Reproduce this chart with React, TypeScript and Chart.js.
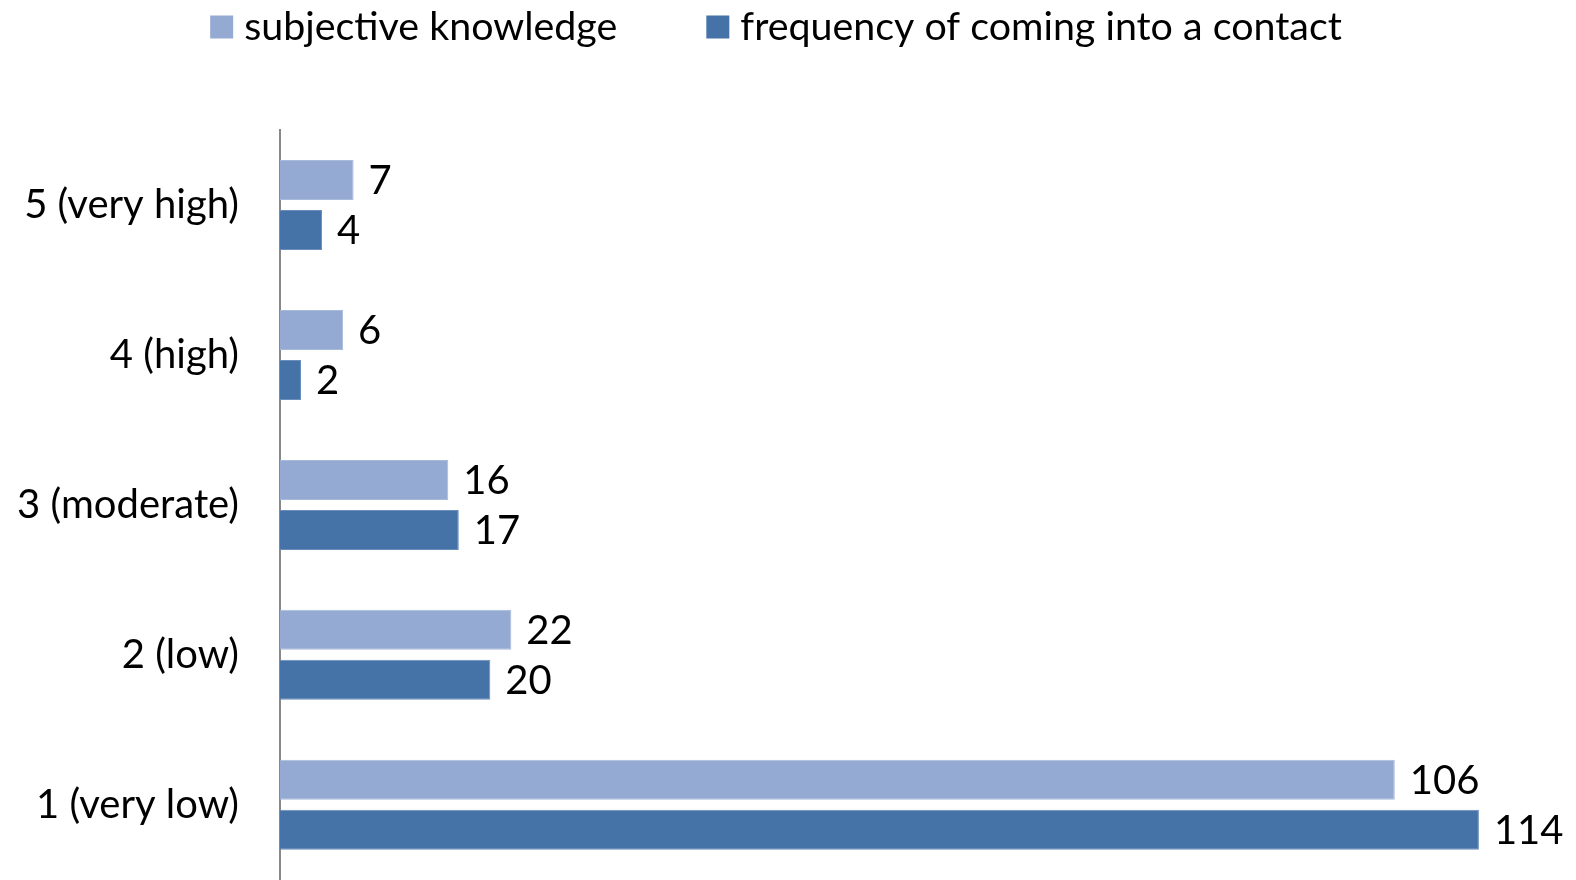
import React, { useEffect, useRef } from "react";
import { Chart, registerables } from "chart.js";

Chart.register(...registerables);

const categories = ["5 (very high)", "4 (high)", "3 (moderate)", "2 (low)", "1 (very low)"];
const subjectiveKnowledge = [7, 6, 16, 22, 106];
const contactFrequency = [4, 2, 17, 20, 114];
const seriesNames = ["subjective knowledge", "frequency of coming into a contact"];
const seriesColors = ["#95AAD2", "#4572A7"];
const seriesBorders = ["#A8BADC", "#6A8DBA"];

const FONT = "Lato";
const FONT_SIZE = 40;
const LEGEND_FONT_SIZE = 39.4;

const valueLabels = {
  id: "valueLabels",
  afterDatasetsDraw(chart: any) {
    const ctx = chart.ctx;
    ctx.save();
    ctx.font = `${FONT_SIZE}px ${FONT}`;
    ctx.fillStyle = "#000";
    ctx.textAlign = "left";
    ctx.textBaseline = "middle";
    chart.data.datasets.forEach((ds: any, i: number) => {
      const meta = chart.getDatasetMeta(i);
      meta.data.forEach((bar: any, j: number) => {
        ctx.fillText(String(ds.data[j]), bar.x + 15, bar.y + 1);
      });
    });
    ctx.restore();
  },
};

const customLegend = {
  id: "customLegend",
  afterDraw(chart: any) {
    const ctx = chart.ctx;
    ctx.save();
    ctx.font = `${LEGEND_FONT_SIZE}px ${FONT}`;
    ctx.textBaseline = "middle";
    ctx.textAlign = "left";
    const box = 23;
    const gapBoxText = 11;
    const gapItems = 89;
    const widths = chart.data.datasets.map((ds: any) => box + gapBoxText + ctx.measureText(ds.label).width);
    const total = widths.reduce((a: number, b: number) => a + b, 0) + gapItems * (widths.length - 1);
    let x = 776 - total / 2;
    const cy = 27;
    chart.data.datasets.forEach((ds: any, i: number) => {
      ctx.fillStyle = ds.backgroundColor;
      ctx.fillRect(x, cy - box / 2, box, box);
      ctx.fillStyle = "#000";
      ctx.fillText(ds.label, x + box + gapBoxText, cy);
      x += widths[i] + gapItems;
    });
    ctx.restore();
  },
};

export default function App() {
  const ref = useRef<HTMLCanvasElement>(null);
  useEffect(() => {
    const chart = new Chart(ref.current!, {
      type: "bar",
      data: {
        labels: categories,
        datasets: [0, 1].map((i) => ({
          label: seriesNames[i],
          data: i === 0 ? subjectiveKnowledge : contactFrequency,
          backgroundColor: seriesColors[i],
          borderColor: seriesBorders[i],
          borderWidth: 1,
          categoryPercentage: 0.667,
          barPercentage: 0.8,
        })),
      },
      options: {
        indexAxis: "y",
        animation: false,
        responsive: false,
        maintainAspectRatio: false,
        layout: { padding: { left: 0, right: 34, top: 130, bottom: 0 } },
        plugins: {
          legend: { display: false },
          tooltip: { enabled: false },
        },
        scales: {
          x: {
            display: false,
            min: 0,
            max: 120,
          },
          y: {
            grid: { display: false, drawTicks: true, tickLength: 41 },
            border: { display: true, color: "#888", width: 2 },
            ticks: {
              font: { family: FONT, size: FONT_SIZE, lineHeight: 0.01 },
              color: "#000",
              padding: 0,
            },
            afterFit(scale: any) {
              scale.width = 280;
            },
          },
        },
      },
      plugins: [valueLabels, customLegend],
    });
    return () => chart.destroy();
  }, []);
  return (
    <div style={{ position: "absolute", left: 0, top: 0, width: 1576, height: 880, background: "#fff", overflow: "hidden" }}>
      <canvas ref={ref} width={1576} height={880} style={{ width: 1576, height: 880, display: "block" }} />
    </div>
  );
}
